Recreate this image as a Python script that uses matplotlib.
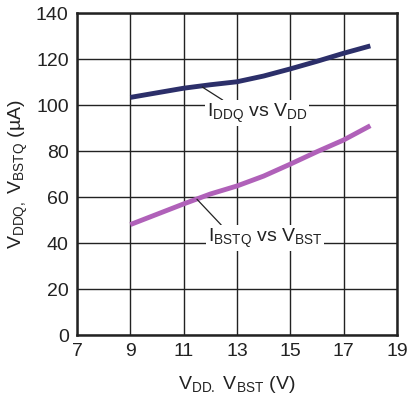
import matplotlib
matplotlib.use("Agg")
import matplotlib.pyplot as plt

plt.rcParams['font.family'] = ['Liberation Sans', 'DejaVu Sans']
plt.rcParams['mathtext.fontset'] = 'custom'
plt.rcParams['mathtext.rm'] = 'Liberation Sans'
plt.rcParams['mathtext.it'] = 'Liberation Sans'

v = [9, 10, 11, 12, 13, 14, 15, 16, 17, 18]
iddq = [103.3, 105.3, 107.3, 108.8, 110.1, 112.6, 115.7, 119.0, 122.5, 125.7]
ibstq = [48.0, 52.5, 57.0, 61.3, 64.8, 69.1, 74.3, 79.7, 84.8, 91.0]

xticks = [7, 9, 11, 13, 15, 17, 19]
yticks = [0, 20, 40, 60, 80, 100, 120, 140]

navy = "#2c2f6a"
purple = "#b061b9"
ink = "#222222"

fig = plt.figure(figsize=(4.1, 4.0), dpi=100)
ax = fig.add_axes([77 / 410, 65 / 400, 320 / 410, 322 / 400])

ax.plot(v, iddq, color=navy, lw=3.5, solid_capstyle='butt', zorder=3)
ax.plot(v, ibstq, color=purple, lw=3.5, solid_capstyle='butt', zorder=3)

ax.set_xlim(7, 19)
ax.set_ylim(0, 140)
ax.set_xticks(xticks)
ax.set_yticks(yticks)
ax.grid(True, color=ink, lw=1.0)
ax.tick_params(length=0, labelsize=14, colors=ink, pad=6)
for s in ax.spines.values():
    s.set_linewidth(1.8)
    s.set_color(ink)

box = dict(facecolor="white", edgecolor="none", pad=1)
ax.annotate(r"I$_{\mathrm{DDQ}}$ vs V$_{\mathrm{DD}}$", xy=(11.7, 107.8), xytext=(13.75, 96.5),
            ha="center", va="center", fontsize=14, color=ink, bbox=box, zorder=4,
            arrowprops=dict(arrowstyle="-", color=ink, lw=0.9, shrinkA=0, shrinkB=0,
                            relpos=(0.2, 0.95)))
ax.annotate(r"I$_{\mathrm{BSTQ}}$ vs V$_{\mathrm{BST}}$", xy=(11.5, 59.0), xytext=(14.05, 42.2),
            ha="center", va="center", fontsize=14, color=ink, bbox=box, zorder=4,
            arrowprops=dict(arrowstyle="-", color=ink, lw=0.9, shrinkA=0, shrinkB=0,
                            relpos=(0.14, 0.95)))

ax.set_xlabel(r"V$_{\mathrm{DD.}}$ V$_{\mathrm{BST}}$ (V)", fontsize=14, color=ink, labelpad=10)
ax.set_ylabel(r"V$_{\mathrm{DDQ,}}$ V$_{\mathrm{BSTQ}}$ (µA)", fontsize=14, color=ink, labelpad=4)

fig.savefig("out.png", dpi=100)
